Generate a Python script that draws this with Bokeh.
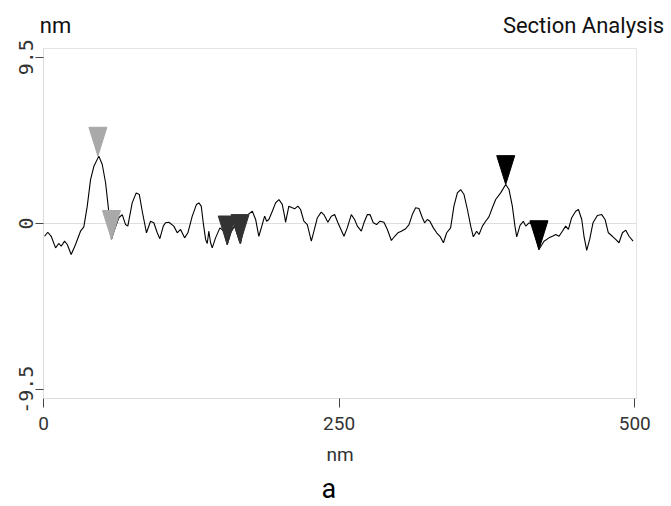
from bokeh.plotting import figure
from bokeh.models import Range1d, FixedTicker, LinearAxis, Title
from bokeh.embed import file_html
from bokeh.resources import INLINE

# ---- data ----
distance_nm = [0.9, 3.6, 6.5, 10.2, 12.9, 15.0, 17.8, 20.1, 23.4, 27.1, 31.3, 34.1, 37.0, 39.8,
               42.6, 46.8, 49.7, 52.5, 54.7, 57.5, 60.1, 63.7, 66.6, 69.4, 71.3, 75.0, 78.4,
               81.0, 83.5, 87.1, 90.5, 93.3, 96.2, 98.4, 101.3, 103.2, 106.0, 110.2, 113.1,
               115.9, 119.3, 122.1, 125.8, 129.4, 131.4, 133.4, 135.1, 137.1, 138.5, 139.8,
               141.3, 142.7, 145.5, 149.2, 152.5, 155.4, 158.2, 161.6, 165.2, 166.7, 169.5,
               172.8, 176.6, 179.4, 182.1, 185.0, 187.0, 188.7, 190.6, 193.5, 196.3, 199.1,
               201.9, 203.9, 204.7, 207.5, 210.4, 212.4, 215.1, 217.4, 220.2, 223.1, 226.5,
               228.7, 231.6, 234.9, 237.1, 240.5, 243.4, 246.2, 249.0, 254.1, 256.9, 260.3,
               263.1, 265.4, 268.8, 271.0, 273.9, 276.1, 278.9, 281.7, 284.5, 287.9, 290.8,
               294.2, 297.0, 299.7, 302.6, 306.3, 309.1, 311.9, 314.7, 317.5, 320.4, 322.3,
               324.6, 326.8, 329.7, 332.5, 335.3, 338.2, 341.0, 344.3, 347.1, 350.0, 352.8,
               355.6, 358.5, 361.3, 363.5, 366.3, 368.3, 371.2, 373.9, 376.7, 379.6, 382.4,
               386.6, 390.9, 393.7, 396.5, 398.7, 400.2, 403.0, 405.8, 407.8, 410.6, 413.5,
               419.0, 423.3, 427.5, 430.4, 433.2, 436.0, 438.8, 441.6, 443.9, 446.7, 450.1,
               452.4, 455.2, 457.1, 459.4, 461.9, 464.7, 468.4, 472.1, 474.9, 477.7, 481.1,
               483.9, 486.7, 489.6, 492.4, 495.2, 498.6]
height_nm = [-0.73, -0.50, -0.73, -1.39, -1.14, -1.30, -1.01, -1.20, -1.77, -1.20, -0.44, -0.19,
             0.99, 2.51, 3.27, 3.85, 3.37, 2.33, 0.99, -0.91, -0.34, 0.33, 0.51, -0.06, -0.15,
             1.18, 1.75, 1.66, 0.70, -0.53, 0.13, 0.04, -0.53, -0.87, -0.15, 0.04, 0.07, -0.15,
             -0.53, -0.34, -0.82, -0.53, 0.42, 1.09, 1.18, 0.99, 0.04, -0.91, -1.14, -0.44,
             -1.10, -1.39, -0.82, -0.25, -0.44, -1.20, -0.53, -0.15, -0.91, -1.14, -0.15, 0.51,
             0.70, 0.23, -0.73, -0.06, 0.42, 0.13, 0.23, 0.70, 1.18, 1.37, 1.09, 0.42, 0.07,
             0.99, 0.90, 0.84, 0.99, 0.80, 0.13, -0.06, -1.01, -0.44, 0.33, 0.65, 0.51, 0.07,
             0.42, 0.51, 0.04, -0.73, -0.25, 0.51, 0.23, -0.15, -0.44, 0.04, 0.51, 0.51, 0.04,
             -0.06, 0.13, 0.07, -0.34, -0.97, -0.73, -0.53, -0.44, -0.30, -0.06, 0.51, 0.90,
             0.86, 0.33, 0.04, 0.23, 0.13, -0.25, -0.53, -0.73, -1.10, -0.53, -0.25, 0.99,
             1.75, 1.94, 1.66, 0.80, -0.15, -0.76, -0.44, -0.63, -0.15, 0.13, 0.38, 0.90, 1.37,
             1.75, 2.23, 1.94, 0.99, -0.15, -0.76, -0.11, 0.13, -0.15, 0.04, -0.06, -1.49,
             -1.01, -0.82, -0.73, -0.63, -0.73, -0.44, -0.15, -0.34, 0.33, 0.70, 0.80, 0.23,
             -0.73, -1.53, -0.91, 0.04, 0.46, 0.51, 0.23, -0.53, -0.73, -0.91, -1.10, -0.53,
             -0.38, -0.73, -1.01]

cursor_x = [46.0, 57.5, 155.4, 166.2, 390.9, 419.0]
cursor_y = [3.85, -0.91, -1.22, -1.14, 2.23, -1.49]
cursor_color = ["#a9a9a9", "#a9a9a9", "#333333", "#333333", "#000000", "#000000"]

x_ticks = [0, 250, 500]
y_ticks = [-9.5, 0, 9.5]
y_tick_labels = {-9.5: "-9.5", 0: "0", 9.5: "9.5"}
header_texts = ["nm", "Section Analysis"]

X_MIN, X_MAX = 0, 501.5
Y_MIN, Y_MAX = -10.0, 10.0

W, H = 671, 506
LEFT, TOP = 43, 48
FRAME_W, FRAME_H = 593, 352
p = figure(width=W, height=H, output_backend="svg", toolbar_location=None,
           x_range=Range1d(X_MIN, X_MAX), y_range=Range1d(Y_MIN, Y_MAX),
           min_border_left=LEFT, min_border_right=W - LEFT - FRAME_W,
           min_border_top=TOP, min_border_bottom=H - TOP - FRAME_H)
p.background_fill_color = "white"
p.border_fill_color = "white"
p.outline_line_color = "#e4e4e4"

px_per_x = FRAME_W / (X_MAX - X_MIN)
px_per_y = FRAME_H / (Y_MAX - Y_MIN)

# grid: only zero line
p.xgrid.visible = False
p.ygrid.ticker = FixedTicker(ticks=[0])
p.ygrid.grid_line_color = "#dedede"

# axes
p.xaxis.ticker = FixedTicker(ticks=x_ticks)
p.yaxis.ticker = FixedTicker(ticks=y_ticks)
p.yaxis.major_label_overrides = y_tick_labels
for ax in (p.xaxis[0], p.yaxis[0]):
    ax.axis_line_color = "#dcdcdc"
    ax.major_tick_line_color = "#444444"
    ax.minor_tick_line_color = None
    ax.major_tick_in = 0
    ax.major_label_text_color = "#333333"
p.xaxis.major_tick_out = 9
p.yaxis.major_tick_out = 8
p.xaxis.major_label_text_font = "Roboto"
p.xaxis.major_label_text_font_size = "19px"
p.xaxis.major_label_standoff = 9
p.yaxis.major_label_text_font = "DejaVu Sans Mono"
p.yaxis.major_label_text_font_size = "20px"
p.yaxis.major_label_orientation = "vertical"
p.yaxis.major_label_standoff = 3
p.xaxis.axis_label = "nm"
p.xaxis.axis_label_text_font = "Roboto"
p.xaxis.axis_label_text_font_size = "19px"
p.xaxis.axis_label_text_font_style = "normal"
p.xaxis.axis_label_text_color = "#333333"
p.xaxis.axis_label_standoff = 10

# header texts ("nm" unit label and "Section Analysis") as labels of a bare top axis
header_centers_px = [55, 583]   # horizontal centres, page pixels
header_pos = [round((c - LEFT) / px_per_x + X_MIN, 2) for c in header_centers_px]
top_axis = LinearAxis(ticker=FixedTicker(ticks=header_pos),
                      major_label_overrides=dict(zip(header_pos, header_texts)),
                      axis_line_color=None, major_tick_line_color=None,
                      minor_tick_line_color=None, major_tick_in=0, major_tick_out=0,
                      major_label_standoff=11, major_label_text_font="Roboto",
                      major_label_text_font_size="22px", major_label_text_color="#111111")
p.add_layout(top_axis, "above")

# figure tag "a" under the axis title (left-aligned title shifted by offset)
p.add_layout(Title(text="a", align="left", offset=278, standoff=4,
                   text_font="Roboto", text_font_size="27px", text_font_style="normal",
                   text_color="#000000"), "below")

# profile
p.line(distance_nm, height_nm, line_color="black", line_width=1.1)

# cursor markers: downward triangles whose tip sits on the profile
tri_w = 18 / px_per_x
tri_h = 29 / px_per_y
xs = [[cx - tri_w / 2, cx + tri_w / 2, cx] for cx in cursor_x]
ys = [[cy + tri_h, cy + tri_h, cy] for cy in cursor_y]
p.patches(xs=xs, ys=ys, fill_color=cursor_color, line_color=cursor_color, line_width=1)

open("out.html", "w").write(file_html(p, INLINE))
